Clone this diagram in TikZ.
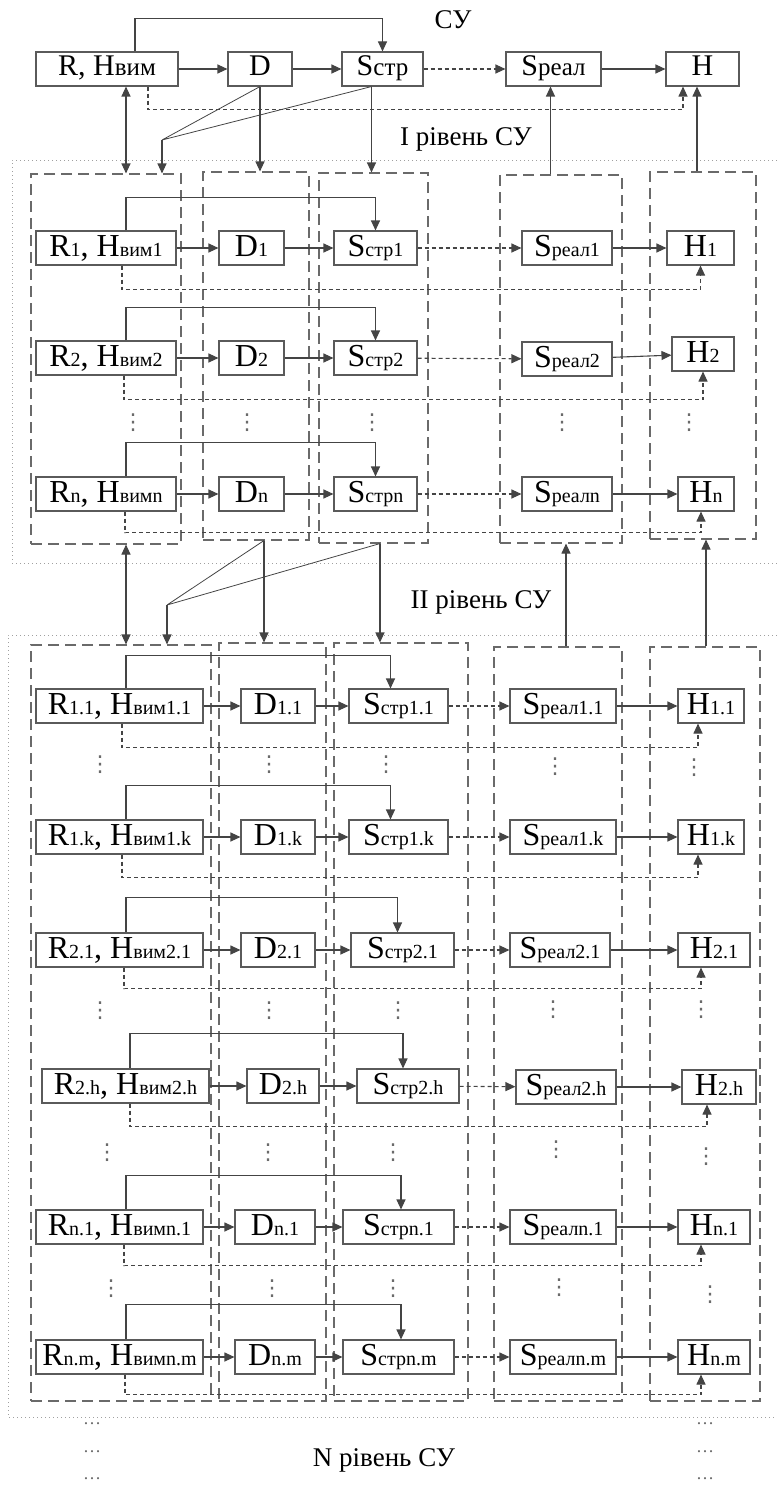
\documentclass[tikz,border=0pt]{standalone}
\usepackage{fontspec}
\setmainfont{Liberation Serif}
\newfontfamily\dvsans{DejaVu Sans}
\usetikzlibrary{arrows.meta, fit}
\definecolor{bGray}{HTML}{5A5A5A}
\definecolor{aGray}{HTML}{444444}
\definecolor{gGray}{HTML}{6A6A6A}
\definecolor{lGray}{HTML}{A0A0A0}
\newcommand{\lo}[1]{{\fontsize{20}{20}\selectfont #1}}
\newcommand{\tlo}[1]{{\fontsize{25}{25}\selectfont #1}}

\begin{document}
\begin{tikzpicture}[
  x=1pt, y=1pt,
  box/.style={draw=bGray, line width=1.1pt, inner xsep=0pt, inner ysep=3pt,
    text height=22pt, text depth=6pt, font=\fontsize{32}{34}\selectfont},
  tbox/.style={box, text height=20pt, text depth=6pt, inner ysep=4pt,
    font=\fontsize{30}{32}\selectfont},
  arr/.style={draw=aGray, line width=1.1pt, arrows={-Triangle[length=10pt,width=9pt]}},
  darr/.style={arr, dash pattern=on 4pt off 3pt},
  both/.style={arr, arrows={Triangle[length=10pt,width=9pt]-Triangle[length=10pt,width=9pt]}},
  fan/.style={draw=aGray, line width=0.8pt},
  grp/.style={draw=gGray, line width=1.1pt, dash pattern=on 11pt off 6pt, inner sep=0pt},
  lvl/.style={draw=lGray, line width=1pt, dash pattern=on 1pt off 3pt},
  lvltxt/.style={font=\fontsize{27}{30}\selectfont},
  vdot/.style={text=gGray, inner sep=0pt, font=\dvsans\fontsize{22}{22}\selectfont},
  edots/.style={text=gGray, inner sep=0pt, font=\fontsize{18}{18}\selectfont},
]
  \useasboundingbox (0,0) rectangle (777,-1485);

  % --- CY (top) ---
  \node[lvltxt] (cu) at (453,-20) {СУ};
  \node[tbox, minimum width=142] (rh0) at (107,-69) {R, H\tlo{вим}};
  \node[tbox, minimum width=64] (d0) at (260,-69) {D};
  \node[tbox, minimum width=81] (ss0) at (382.5,-69) {S\tlo{стр}};
  \node[tbox, minimum width=95] (sr0) at (553.5,-69) {S\tlo{реал}};
  \node[tbox, minimum width=73] (h0) at (702.5,-69) {H};
  \draw[arr] (rh0) -- (d0);
  \draw[arr] (d0) -- (ss0);
  \draw[darr] (ss0) -- (sr0);
  \draw[arr] (sr0) -- (h0);
  \draw[arr] ([xshift=28pt]rh0.north) -- ++(0,33) -| (ss0.north);
  \draw[darr] ([xshift=41pt]rh0.south) -- ++(0,-23) -| ([xshift=-19.5pt]h0.south);
  \node[lvltxt] (lv1) at (466,-139) {I рівень СУ};

  % --- level I ---
  \draw[lvl] (777,-160) -- (12,-160) -- (12,-563) -- (777,-563);
  \node[grp, fit={(31,-174) (181,-544)}] (ga1) {};
  \node[grp, fit={(203,-172) (309,-540)}] (ga2) {};
  \node[grp, fit={(319,-173) (428,-543)}] (ga3) {};
  \node[grp, fit={(500,-175) (622,-543)}] (ga4) {};
  \node[grp, fit={(650,-172) (756,-539)}] (ga5) {};

  \coordinate (pa) at ([xshift=19pt]rh0.south);
  \coordinate (pb) at ([xshift=-11pt]ss0.south);
  \coordinate (fa) at (162,-140);
  \draw[both] (pa) -- (pa |- ga1.north);
  \draw[arr] (d0.south) -- (d0.south |- ga2.north);
  \draw[arr] (pb) -- (pb |- ga3.north);
  \draw[fan] (d0.south) -- (fa) (pb) -- (fa);
  \draw[arr] (fa) -- (fa |- ga1.north);
  \coordinate (pc) at ([xshift=-3pt]sr0.south);
  \coordinate (pd) at ([xshift=-5.5pt]h0.south);
  \draw[arr] (pc |- ga4.north) -- (pc);
  \draw[arr] (pd |- ga5.north) -- (pd);

  \node[box, minimum width=140] (rha1) at (106,-248) {R\lo{1}, H\lo{вим1}};
  \node[box, minimum width=65] (da1) at (251.5,-248) {D\lo{1}};
  \node[box, minimum width=83] (ssa1) at (375.5,-248) {S\lo{стр1}};
  \node[box, minimum width=90] (sra1) at (567,-248) {S\lo{реал1}};
  \node[box, minimum width=67] (ha1) at (700.5,-248) {H\lo{1}};

  \node[box, minimum width=140] (rha2) at (106,-358) {R\lo{2}, H\lo{вим2}};
  \node[box, minimum width=65] (da2) at (251.5,-358) {D\lo{2}};
  \node[box, minimum width=83] (ssa2) at (375.5,-358) {S\lo{стр2}};
  \node[box, minimum width=90] (sra2) at (567,-359) {S\lo{реал2}};
  \node[box, minimum width=62] (ha2) at (703,-354) {H\lo{2}};

  \node[box, minimum width=140] (rhan) at (106,-494) {R\lo{n}, H\lo{вимn}};
  \node[box, minimum width=65] (dan) at (251.5,-494) {D\lo{n}};
  \node[box, minimum width=83] (ssan) at (375.5,-494) {S\lo{стрn}};
  \node[box, minimum width=90] (sran) at (567,-494) {S\lo{реалn}};
  \node[box, minimum width=56] (han) at (706,-494) {H\lo{n}};

  \draw[arr] (rha1) -- (da1);
  \draw[arr] (da1) -- (ssa1);
  \draw[darr] (ssa1) -- (sra1);
  \draw[arr] (sra1) -- (ha1);
  \draw[arr] ([xshift=20pt]rha1.north) -- ++(0,33) -| (ssa1.north);
  \draw[darr] ([xshift=16pt]rha1.south) -- ++(0,-24) -| (ha1.south);

  \draw[arr] (rha2) -- (da2);
  \draw[arr] (da2) -- (ssa2);
  \draw[darr] (ssa2) -- (sra2);
  \draw[arr] (sra2) -- (ha2);
  \draw[arr] ([xshift=20pt]rha2.north) -- ++(0,33) -| (ssa2.north);
  \draw[darr] ([xshift=18pt]rha2.south) -- ++(0,-24) -| (ha2.south);

  \draw[arr] (rhan) -- (dan);
  \draw[arr] (dan) -- (ssan);
  \draw[darr] (ssan) -- (sran);
  \draw[arr] (sran) -- (han);
  \draw[arr] ([xshift=20pt]rhan.north) -- ++(0,34) -| (ssan.north);
  \draw[darr] ([xshift=19pt]rhan.south) -- ++(0,-21) -| ([xshift=-5pt]han.south);

  \node[vdot] (va1) at (133,-423) {⋮};
  \node[vdot] (va2) at (247,-423) {⋮};
  \node[vdot] (va3) at (372,-423) {⋮};
  \node[vdot] (va4) at (562,-423) {⋮};
  \node[vdot] (va5) at (689,-423) {⋮};

  % --- level II ---
  \draw[lvl] (777,-635) -- (8,-635) -- (8,-1417) -- (777,-1417);
  \node[grp, fit={(31,-645) (211,-1401)}] (gb1) {};
  \node[grp, fit={(219,-643) (326,-1401)}] (gb2) {};
  \node[grp, fit={(334,-643) (468,-1401)}] (gb3) {};
  \node[grp, fit={(494,-647) (622,-1401)}] (gb4) {};
  \node[grp, fit={(650,-647) (760,-1401)}] (gb5) {};
  \node[lvltxt] (lv2) at (481,-602) {II рівень СУ};

  \coordinate (pe) at ([xshift=20pt]ga1.south);
  \coordinate (pf) at ([xshift=8pt]ga2.south);
  \coordinate (pg) at ([xshift=6.5pt]ga3.south);
  \coordinate (fb) at (167,-605);
  \draw[both] (pe) -- (pe |- gb1.north);
  \draw[arr] (pf) -- (pf |- gb2.north);
  \draw[arr] (pg) -- (pg |- gb3.north);
  \draw[fan] (pf) -- (fb) (pg) -- (fb);
  \draw[arr] (fb) -- (fb |- gb1.north);
  \coordinate (ph) at ([xshift=8pt]gb4.north);
  \coordinate (pi) at ([xshift=1pt]gb5.north);
  \draw[arr] (ph) -- (ph |- ga4.south);
  \draw[arr] (pi) -- (pi |- ga5.south);

  \node[box, minimum width=167] (rhb1) at (119.5,-706) {R\lo{1.1}, H\lo{вим1.1}};
  \node[box, minimum width=74] (db1) at (278,-706) {D\lo{1.1}};
  \node[box, minimum width=99] (ssb1) at (398.5,-706) {S\lo{стр1.1}};
  \node[box, minimum width=106] (srb1) at (563,-706) {S\lo{реал1.1}};
  \node[box, minimum width=66] (hb1) at (711,-706) {H\lo{1.1}};

  \node[box, minimum width=167] (rhb2) at (119.5,-837) {R\lo{1.k}, H\lo{вим1.k}};
  \node[box, minimum width=74] (db2) at (278,-837) {D\lo{1.k}};
  \node[box, minimum width=99] (ssb2) at (398.5,-837) {S\lo{стр1.k}};
  \node[box, minimum width=106] (srb2) at (563,-837) {S\lo{реал1.k}};
  \node[box, minimum width=66] (hb2) at (711,-837) {H\lo{1.k}};

  \node[box, minimum width=167] (rhb3) at (119.5,-950) {R\lo{2.1}, H\lo{вим2.1}};
  \node[box, minimum width=74] (db3) at (278,-950) {D\lo{2.1}};
  \node[box, minimum width=103] (ssb3) at (402.5,-950) {S\lo{стр2.1}};
  \node[box, minimum width=100] (srb3) at (560,-950) {S\lo{реал2.1}};
  \node[box, minimum width=72] (hb3) at (714,-950) {H\lo{2.1}};

  \node[box, minimum width=167] (rhb4) at (125.5,-1086) {R\lo{2.h}, H\lo{вим2.h}};
  \node[box, minimum width=72] (db4) at (283,-1086) {D\lo{2.h}};
  \node[box, minimum width=102] (ssb4) at (408,-1086) {S\lo{стр2.h}};
  \node[box, minimum width=100] (srb4) at (566,-1087) {S\lo{реал2.h}};
  \node[box, minimum width=74] (hb4) at (719,-1087) {H\lo{2.h}};

  \node[box, minimum width=167] (rhb5) at (119.5,-1227) {R\lo{n.1}, H\lo{вимn.1}};
  \node[box, minimum width=80] (db5) at (275,-1227) {D\lo{n.1}};
  \node[box, minimum width=111] (ssb5) at (398.5,-1227) {S\lo{стрn.1}};
  \node[box, minimum width=106] (srb5) at (563,-1227) {S\lo{реалn.1}};
  \node[box, minimum width=72] (hb5) at (714,-1227) {H\lo{n.1}};

  \node[box, minimum width=167] (rhb6) at (119.5,-1357) {R\lo{n.m}, H\lo{вимn.m}};
  \node[box, minimum width=80] (db6) at (275,-1357) {D\lo{n.m}};
  \node[box, minimum width=111] (ssb6) at (398.5,-1357) {S\lo{стрn.m}};
  \node[box, minimum width=106] (srb6) at (563,-1357) {S\lo{реалn.m}};
  \node[box, minimum width=72] (hb6) at (714,-1357) {H\lo{n.m}};

  \draw[arr] (rhb1) -- (db1);
  \draw[arr] (db1) -- (ssb1);
  \draw[darr] (ssb1) -- (srb1);
  \draw[arr] (srb1) -- (hb1);
  \draw[arr] ([xshift=6.5pt]rhb1.north) -- ++(0,33) -| ([xshift=-8pt]ssb1.north);
  \draw[darr] ([xshift=2.5pt]rhb1.south) -- ++(0,-24) -| ([xshift=-13pt]hb1.south);

  \draw[arr] (rhb2) -- (db2);
  \draw[arr] (db2) -- (ssb2);
  \draw[darr] (ssb2) -- (srb2);
  \draw[arr] (srb2) -- (hb2);
  \draw[arr] ([xshift=6.5pt]rhb2.north) -- ++(0,34) -| ([xshift=-8pt]ssb2.north);
  \draw[darr] ([xshift=2.5pt]rhb2.south) -- ++(0,-23) -| ([xshift=-13pt]hb2.south);

  \draw[arr] (rhb3) -- (db3);
  \draw[arr] (db3) -- (ssb3);
  \draw[darr] (ssb3) -- (srb3);
  \draw[arr] (srb3) -- (hb3);
  \draw[arr] ([xshift=6.5pt]rhb3.north) -- ++(0,35) -| ([xshift=-5pt]ssb3.north);
  \draw[darr] ([xshift=4.5pt]rhb3.south) -- ++(0,-21) -| ([xshift=-13pt]hb3.south);

  \draw[arr] (rhb4) -- (db4);
  \draw[arr] (db4) -- (ssb4);
  \draw[darr] (ssb4) -- (srb4);
  \draw[arr] (srb4) -- (hb4);
  \draw[arr] ([xshift=4.5pt]rhb4.north) -- ++(0,35) -| ([xshift=-5pt]ssb4.north);
  \draw[darr] ([xshift=4.5pt]rhb4.south) -- ++(0,-23) -| ([xshift=-12pt]hb4.south);

  \draw[arr] (rhb5) -- (db5);
  \draw[arr] (db5) -- (ssb5);
  \draw[darr] (ssb5) -- (srb5);
  \draw[arr] (srb5) -- (hb5);
  \draw[arr] ([xshift=6.5pt]rhb5.north) -- ++(0,34) -| ([xshift=2.5pt]ssb5.north);
  \draw[darr] ([xshift=4.5pt]rhb5.south) -- ++(0,-21) -| ([xshift=-13pt]hb5.south);

  \draw[arr] (rhb6) -- (db6);
  \draw[arr] (db6) -- (ssb6);
  \draw[darr] (ssb6) -- (srb6);
  \draw[arr] (srb6) -- (hb6);
  \draw[arr] ([xshift=6.5pt]rhb6.north) -- ++(0,35) -| ([xshift=2.5pt]ssb6.north);
  \draw[darr] ([xshift=5.5pt]rhb6.south) -- ++(0,-20) -| ([xshift=-13pt]hb6.south);

  \node[vdot] (vb11) at (100,-765) {⋮};
  \node[vdot] (vb12) at (269,-765) {⋮};
  \node[vdot] (vb13) at (386,-765) {⋮};
  \node[vdot] (vb14) at (555,-767) {⋮};
  \node[vdot] (vb15) at (694,-768) {⋮};

  \node[vdot] (vb21) at (100,-1011) {⋮};
  \node[vdot] (vb22) at (269,-1011) {⋮};
  \node[vdot] (vb23) at (398,-1011) {⋮};
  \node[vdot] (vb24) at (553,-1010) {⋮};
  \node[vdot] (vb25) at (701,-1010) {⋮};

  \node[vdot] (vb31) at (107,-1153) {⋮};
  \node[vdot] (vb32) at (268,-1153) {⋮};
  \node[vdot] (vb33) at (393,-1153) {⋮};
  \node[vdot] (vb34) at (556,-1150) {⋮};
  \node[vdot] (vb35) at (706,-1157) {⋮};

  \node[vdot] (vb41) at (111,-1289) {⋮};
  \node[vdot] (vb42) at (272,-1289) {⋮};
  \node[vdot] (vb43) at (393,-1289) {⋮};
  \node[vdot] (vb44) at (559,-1288) {⋮};
  \node[vdot] (vb45) at (710,-1295) {⋮};

  % --- N level ---
  \node[edots] (e1) at (92,-1424) {\ldots};
  \node[edots] (e2) at (92,-1452) {\ldots};
  \node[edots] (e3) at (92,-1479) {\ldots};
  \node[edots] (e4) at (705,-1424) {\ldots};
  \node[edots] (e5) at (705,-1452) {\ldots};
  \node[edots] (e6) at (705,-1479) {\ldots};
  \node[lvltxt] (lvn) at (384,-1460) {N рівень СУ};
\end{tikzpicture}
\end{document}
